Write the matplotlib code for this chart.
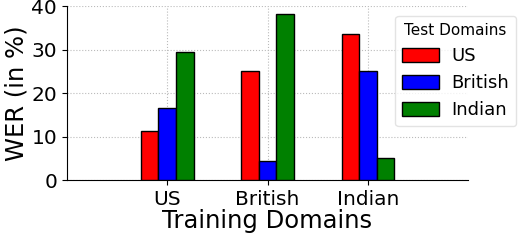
import matplotlib
matplotlib.use("Agg")
import matplotlib.pyplot as plt
import numpy as np

train_domains = ["US", "British", "Indian"]
test_domains = ["US", "British", "Indian"]
wer_us = [11.4, 16.6, 29.5]
wer_british = [25.2, 4.4, 38.2]
wer_indian = [33.6, 25.0, 5.1]
colors = ["red", "blue", "green"]

x = np.arange(len(train_domains))
w = 0.175
series = [
    [wer_us[0], wer_british[0], wer_indian[0]],
    [wer_us[1], wer_british[1], wer_indian[1]],
    [wer_us[2], wer_british[2], wer_indian[2]],
]

fig, ax = plt.subplots(figsize=(5.22, 2.42), dpi=100)
for i, vals in enumerate(series):
    ax.bar(x + (i - 1) * w, vals, w, color=colors[i], edgecolor="black",
           linewidth=1.0, label=test_domains[i], zorder=3)

ax.set_xlim(-1, 3)
ax.set_ylim(0, 40)
ax.set_xticks(x)
ax.set_xticklabels(train_domains)
ax.set_yticks([0, 10, 20, 30, 40])
ax.tick_params(labelsize=14.5)
ax.set_xlabel("Training Domains", fontsize=17.5, labelpad=0)
ax.set_ylabel("WER (in %)", fontsize=17.5, labelpad=2)
ax.grid(True, linestyle=":", color="#bbbbbb", zorder=0)
ax.spines["top"].set_visible(False)
ax.spines["right"].set_visible(False)
leg = ax.legend(title="Test Domains", fontsize=13, title_fontsize=11,
                loc="upper left", bbox_to_anchor=(0.818, 0.945),
                handlelength=2.0, handleheight=0.8, labelspacing=0.5,
                handletextpad=0.7, borderaxespad=0, borderpad=0.4)
leg.get_frame().set_edgecolor("#dddddd")

plt.subplots_adjust(left=0.128, right=0.897, top=0.975, bottom=0.255)
plt.savefig("out.png")
